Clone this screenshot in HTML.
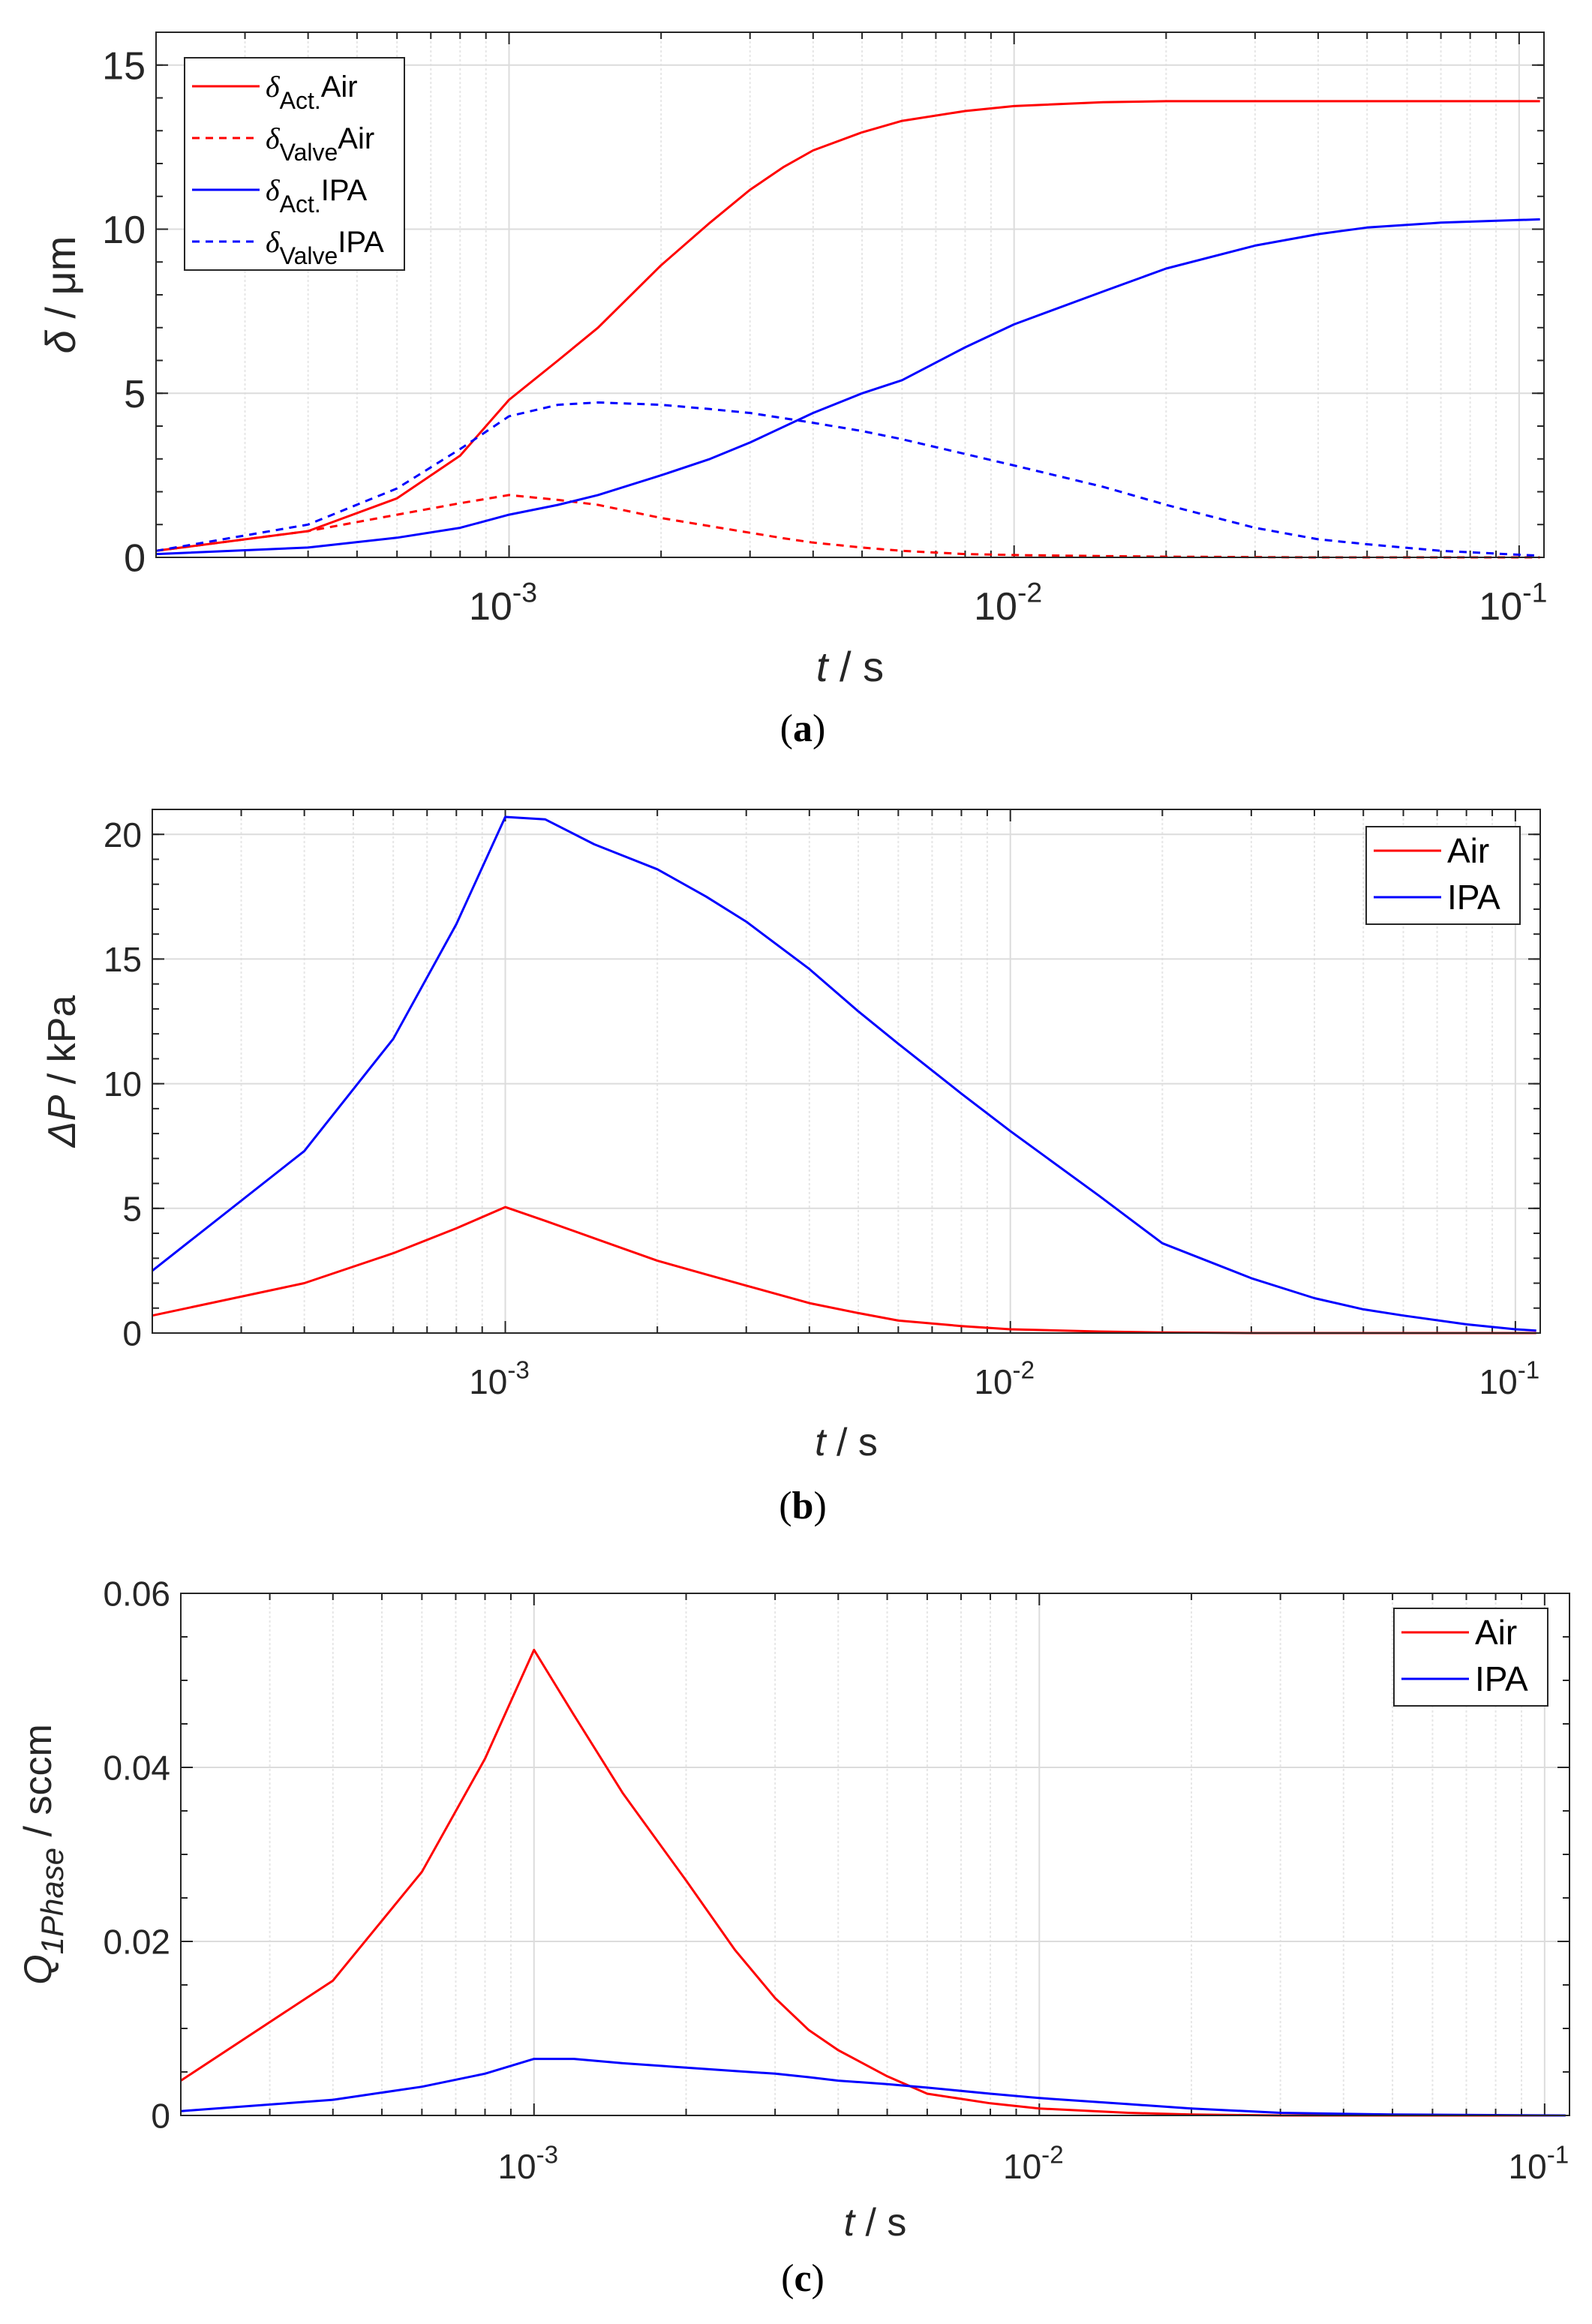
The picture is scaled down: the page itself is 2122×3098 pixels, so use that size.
<!DOCTYPE html>
<html><head><meta charset="utf-8"><style>
body{margin:0;background:#fff}
svg{display:block;font-family:"Liberation Sans",sans-serif}
</style></head><body>
<svg id="fig" width="2122" height="3098" viewBox="0 0 2122 3098" xmlns="http://www.w3.org/2000/svg"></svg>
<script>
// ---- Panel (a) data ----
const tA1 = [2e-4,4e-4,6e-4,8e-4,1e-3,1.25e-3,1.5e-3,2e-3,2.5e-3,3e-3,3.5e-3,4e-3,5e-3,6e-3,8e-3,1e-2,1.5e-2,2e-2,4e-2,0.11];
const actAir = [0.2,0.8,1.8,3.1,4.8,6.0,7.0,8.9,10.2,11.2,11.9,12.4,12.95,13.3,13.6,13.75,13.87,13.9,13.9,13.9];
const valveAir = [0.2,0.8,1.3,1.65,1.9,1.75,1.6,1.2,0.95,0.75,0.58,0.45,0.3,0.2,0.1,0.07,0.04,0.02,0.0,0.0];
const tA2 = [2e-4,4e-4,6e-4,8e-4,1e-3,1.25e-3,1.5e-3,2e-3,2.5e-3,3e-3,4e-3,5e-3,6e-3,8e-3,1e-2,1.5e-2,2e-2,3e-2,4e-2,5e-2,7e-2,0.1,0.11];
const actIPA = [0.1,0.3,0.6,0.9,1.3,1.6,1.9,2.5,3.0,3.5,4.4,5.0,5.4,6.4,7.1,8.1,8.8,9.5,9.85,10.05,10.2,10.28,10.3];
const valveIPA = [0.2,1.0,2.1,3.3,4.3,4.65,4.72,4.65,4.52,4.4,4.1,3.85,3.6,3.15,2.8,2.15,1.6,0.9,0.55,0.4,0.2,0.08,0.05];
const yTicksA = [0,5,10,15];
// ---- Panel (b) data ----
const tB = [2e-4,4e-4,6e-4,8e-4,1e-3,1.2e-3,1.5e-3,2e-3,2.5e-3,3e-3,4e-3,5e-3,6e-3,8e-3,1e-2,1.5e-2,2e-2,3e-2,4e-2,5e-2,6e-2,8e-2,0.1,0.11];
const dpIPA = [2.5,7.3,11.8,16.4,20.7,20.6,19.6,18.6,17.5,16.5,14.6,12.9,11.6,9.6,8.1,5.5,3.6,2.2,1.4,0.95,0.7,0.35,0.15,0.1];
const dpAir = [0.7,2.0,3.2,4.2,5.05,4.5,3.8,2.9,2.35,1.9,1.2,0.8,0.5,0.28,0.15,0.06,0.02,0.0,0.0,0.0,0.0,0.0,0.0,0.0];
const yTicksB = [0,5,10,15,20];
// ---- Panel (c) data ----
const tC = [2e-4,4e-4,6e-4,8e-4,1e-3,1.2e-3,1.5e-3,2e-3,2.5e-3,3e-3,3.5e-3,4e-3,5e-3,6e-3,8e-3,1e-2,1.5e-2,2e-2,3e-2,5e-2,0.11];
const qAir = [0.004,0.0155,0.028,0.041,0.0535,0.046,0.037,0.027,0.019,0.0135,0.0098,0.0075,0.0045,0.0025,0.0014,0.0008,0.0003,0.0001,0,0,0];
const qIPA = [0.0005,0.0018,0.0033,0.0048,0.0065,0.0065,0.006,0.0055,0.0051,0.0048,0.0044,0.004,0.0036,0.0032,0.0025,0.002,0.0013,0.0008,0.0003,0.0001,0];
const yTicksC = [0,0.02,0.04,0.06];
const yTickLabelsC = ["0","0.02","0.04","0.06"];
const xTickExps = [-3,-2,-1];

const NS="http://www.w3.org/2000/svg";
const svg=document.getElementById('fig');
function mk(tag,attrs,parent){const e=document.createElementNS(NS,tag);for(const k in attrs)e.setAttribute(k,attrs[k]);(parent||svg).appendChild(e);return e;}

function panel(cfg){
  const g=mk('g',{});
  
  
  const L=cfg.l,R=cfg.r,T=cfg.t,B=cfg.b;
  const lx0=Math.log10(2e-4),lx1=Math.log10(cfg.xmax);
  const X=t=>L+(Math.log10(t)-lx0)/(lx1-lx0)*(R-L);
  const Y=v=>B-(v-cfg.ymin)/(cfg.ymax-cfg.ymin)*(B-T);
  for(let e=-4;e<=-1;e++)for(let m=1;m<=9;m++){const t=m*Math.pow(10,e);if(t<2e-4||t>cfg.xmax)continue;
    const x=X(t);
    const ln=mk('line',{x1:x,x2:x,y1:T,y2:B,stroke:m===1?'#dcdcdc':'#e6e6e6','stroke-width':2,'stroke-dasharray':m===1?'':'3,3'},g);
    
    
    const tl=m===1?16:9;
    mk('line',{x1:x,x2:x,y1:B,y2:B-tl,stroke:'#262626','stroke-width':2},g);
    mk('line',{x1:x,x2:x,y1:T,y2:T+tl,stroke:'#262626','stroke-width':2},g);
  }
  cfg.yTicks.forEach((v,i)=>{const y=Y(v);
    const gl=mk('line',{x1:L,x2:R,y1:y,y2:y,stroke:'#dcdcdc','stroke-width':2},g);
    
    
    mk('line',{x1:L,x2:L+16,y1:y,y2:y,stroke:'#262626','stroke-width':2},g);
    mk('line',{x1:R,x2:R-16,y1:y,y2:y,stroke:'#262626','stroke-width':2},g);
    const tx=mk('text',{x:L-14,y:y+cfg.fs*0.36,'text-anchor':'end','font-size':cfg.fs,fill:'#262626'},g);
    tx.textContent=cfg.yLabels?cfg.yLabels[i]:String(v);
    
    
  });
  if(cfg.yMinor){for(let v=cfg.ymin;v<=cfg.ymax+1e-9;v+=cfg.yMinor){const y=Y(v);
    mk('line',{x1:L,x2:L+9,y1:y,y2:y,stroke:'#262626','stroke-width':2},g);
    mk('line',{x1:R,x2:R-9,y1:y,y2:y,stroke:'#262626','stroke-width':2},g);}}
  xTickExps.forEach(e=>{const x=X(Math.pow(10,e));
    const tx=mk('text',{x:x-8,y:cfg.tickY,'text-anchor':'middle','font-size':cfg.fs,fill:'#262626'},g);
    
    
    tx.appendChild(document.createTextNode('10'));
    const sp=mk('tspan',{dy:-cfg.fs*0.45,'font-size':cfg.fs*0.72},tx);sp.textContent=String(e);
  });
  cfg.series.forEach(s=>{
    const d=s.t.map((t,i)=>(i?'L':'M')+X(t).toFixed(1)+','+Y(s.v[i]).toFixed(1)).join(' ');
    const p=mk('path',{d:d,fill:'none',stroke:s.c,'stroke-width':3,'stroke-linejoin':'round','stroke-dasharray':s.dash?'10,8':''},g);
    
    
  });
  mk('rect',{x:L,y:T,width:R-L,height:B-T,fill:'none',stroke:'#262626','stroke-width':2},g);
  const xl=mk('text',{x:(L+R)/2,y:cfg.xlabY,'text-anchor':'middle','font-size':cfg.lfs,fill:'#262626'},g);
  
  
  const ti=mk('tspan',{'font-style':'italic'},xl);ti.textContent='t';
  xl.appendChild(document.createTextNode(' / s'));
  const yl=mk('text',{transform:`translate(${cfg.ylabX},${(T+B)/2}) rotate(-90)`,'text-anchor':'middle','font-size':cfg.lfs,fill:'#262626'},g);
  
  
  cfg.ylab(yl);
  const cap=mk('text',{x:cfg.capX,y:cfg.capY,'text-anchor':'middle','font-size':52,'font-family':'Liberation Serif, serif',fill:'#000'},g);
  
  
  cap.appendChild(document.createTextNode('('));
  const cb=mk('tspan',{'font-weight':'bold'},cap);cb.textContent=cfg.cap;
  cap.appendChild(document.createTextNode(')'));
  const lg=cfg.legend;
  const lgG=mk('g',{},g);
  
  
  mk('rect',{x:lg.x,y:lg.y,width:lg.w,height:lg.h,fill:'#fff',stroke:'#262626','stroke-width':2},lgG);
  lg.items.forEach((it,i)=>{const cy=lg.y+lg.pad+i*lg.step;
    const ent=mk('g',{},lgG);
    
    
    mk('line',{x1:lg.x+10,x2:lg.x+lg.lineW,y1:cy,y2:cy,stroke:it.c,'stroke-width':3,'stroke-dasharray':it.dash?'10,8':''},ent);
    const tx=mk('text',{x:lg.x+lg.lineW+8,y:cy+lg.fs*0.35,'font-size':lg.fs,fill:'#000'},ent);
    it.label(tx);
  });
}
function deltaLabel(sub,rest){return tx=>{
  const d=mk('tspan',{'font-style':'italic','font-family':'Liberation Serif, serif'},tx);d.textContent='δ';
  const s=mk('tspan',{'font-size':32,dy:16},tx);s.textContent=sub;
  const r=mk('tspan',{dy:-16},tx);r.textContent=rest;};}
function plain(t){return tx=>{tx.textContent=t;};}

panel({name:'panel-a-deflection',l:208,r:2058,t:43,b:743,xmax:0.112,ymin:0,ymax:16,yTicks:yTicksA,yMinor:1,
  fs:52,lfs:56,tickY:826,xlabY:908,ylabX:100,capX:1070,capY:988,cap:'a',
  ylab:yl=>{const a=mk('tspan',{'font-style':'italic'},yl);a.textContent='δ';yl.appendChild(document.createTextNode(' / μm'));},
  series:[{t:tA1,v:actAir,c:'#ff0000',name:'act-air-line'},{t:tA1,v:valveAir,c:'#ff0000',dash:1,name:'valve-air-line'},
          {t:tA2,v:actIPA,c:'#0000ff',name:'act-ipa-line'},{t:tA2,v:valveIPA,c:'#0000ff',dash:1,name:'valve-ipa-line'}],
  legend:{x:246,y:77,w:293,h:283,pad:38,step:69,lineW:100,fs:40,items:[
    {c:'#ff0000',label:deltaLabel('Act.','Air')},{c:'#ff0000',dash:1,label:deltaLabel('Valve','Air')},
    {c:'#0000ff',label:deltaLabel('Act.','IPA')},{c:'#0000ff',dash:1,label:deltaLabel('Valve','IPA')}]}
});
panel({name:'panel-b-pressure',l:203,r:2053,t:1079,b:1777,xmax:0.112,ymin:0,ymax:21,yTicks:yTicksB,yMinor:1,
  fs:46,lfs:52,tickY:1858,xlabY:1940,ylabX:100,capX:1070,capY:2024,cap:'b',
  ylab:yl=>{const a=mk('tspan',{'font-style':'italic'},yl);a.textContent='ΔP';yl.appendChild(document.createTextNode(' / kPa'));},
  series:[{t:tB,v:dpAir,c:'#ff0000',name:'air-line'},{t:tB,v:dpIPA,c:'#0000ff',name:'ipa-line'}],
  legend:{x:1821,y:1102,w:205,h:130,pad:32,step:62,lineW:100,fs:46,items:[{c:'#ff0000',label:plain('Air')},{c:'#0000ff',label:plain('IPA')}]}
});
panel({name:'panel-c-flow',l:241,r:2092,t:2124,b:2820,xmax:0.112,ymin:0,ymax:0.06,yTicks:yTicksC,yLabels:yTickLabelsC,yMinor:0.005,
  fs:46,lfs:52,tickY:2904,xlabY:2980,ylabX:68,capX:1070,capY:3054,cap:'c',
  ylab:yl=>{const a=mk('tspan',{'font-style':'italic'},yl);a.textContent='Q';const s=mk('tspan',{'font-style':'italic','font-size':42,dy:16},yl);s.textContent='1Phase';const r=mk('tspan',{dy:-16},yl);r.textContent=' / sccm';},
  series:[{t:tC,v:qAir,c:'#ff0000',name:'air-line'},{t:tC,v:qIPA,c:'#0000ff',name:'ipa-line'}],
  legend:{x:1858,y:2144,w:205,h:130,pad:32,step:62,lineW:100,fs:46,items:[{c:'#ff0000',label:plain('Air')},{c:'#0000ff',label:plain('IPA')}]}
});
</script>
</body></html>
